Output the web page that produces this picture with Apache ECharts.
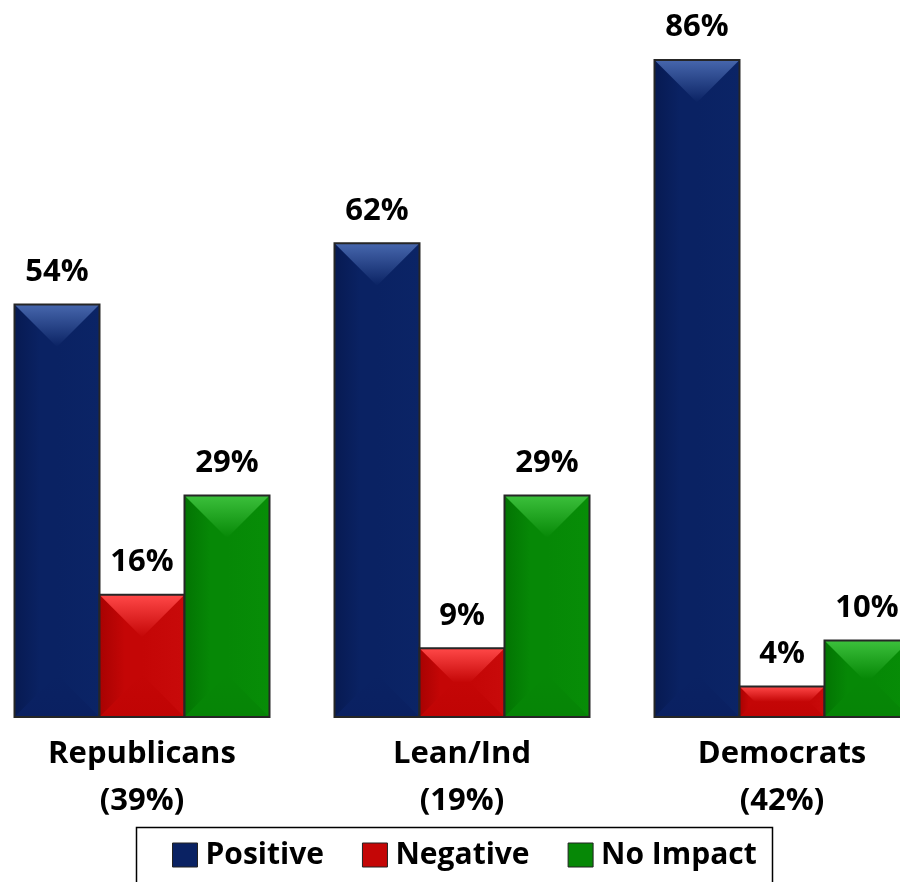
<!DOCTYPE html>
<html><head><meta charset="utf-8">
<script src="https://cdn.jsdelivr.net/npm/echarts@6/dist/echarts.min.js"></script>
<style>html,body{margin:0;padding:0;background:#fff;overflow:hidden;width:900px;height:882px}#c{position:absolute;left:-18px;top:0;width:960px;height:882px}</style>
</head><body><div id="c"></div>
<script>
const categories = ['Republicans\n(39%)', 'Lean/Ind\n(19%)', 'Democrats\n(42%)'];
const seriesNames = ['Positive', 'Negative', 'No Impact'];
const positive = [54, 62, 86];
const negative = [16, 9, 4];
const noImpact = [29, 29, 10];

const FONT = '"Open Sans", "Noto Sans", sans-serif';
const OFF = 18; // container is shifted left by this many px
const BAR_W = 85;
const palette = [
  {base: '#0a2263', light: '#4767ad', dark: '#071a52', side: '#0b2466', bottom: '#0a2061'},
  {base: '#c40606', light: '#ff4848', dark: '#a80202', side: '#c80a0a', bottom: '#c00404'},
  {base: '#068806', light: '#3cc03c', dark: '#037403', side: '#078d07', bottom: '#068406'}
];
const values = [positive, negative, noImpact];

function bevelSeries(si) {
  const c = palette[si];
  const offset = (si - 1) * BAR_W;
  return {
    type: 'custom', name: seriesNames[si] + '_bevel', silent: true, z: 3,
    data: values[si].map((v, k) => [k, v]),
    renderItem: function (params, api) {
      const cat = api.value(0), val = api.value(1);
      const pb = api.coord([cat, 0]);
      const pt = api.coord([cat, val]);
      const cx = pb[0] + offset;
      const x0 = cx - BAR_W / 2, x1 = cx + BAR_W / 2;
      const yT = pt[1], yB = pb[1];
      const d = Math.min(BAR_W / 2, (yB - yT) / 2);
      const LG = echarts.graphic.LinearGradient;
      return {
        type: 'group', children: [
          {type: 'rect', shape: {x: x0, y: yT, width: BAR_W, height: yB - yT}, style: {fill: c.base}},
          {type: 'polygon', shape: {points: [[x0, yB], [x1, yB], [x1 - d, yB - d], [x0 + d, yB - d]]},
            style: {fill: new LG(0, 0, 0, 1, [{offset: 0, color: c.base}, {offset: 1, color: c.bottom}])}},
          {type: 'polygon', shape: {points: [[x0, yT], [x0 + d, yT + d], [x0 + d, yB - d], [x0, yB]]},
            style: {fill: new LG(0, 0, 1, 0, [{offset: 0, color: c.dark}, {offset: 0.6, color: c.base}, {offset: 1, color: c.base}])}},
          {type: 'polygon', shape: {points: [[x1, yT], [x1 - d, yT + d], [x1 - d, yB - d], [x1, yB]]},
            style: {fill: new LG(0, 0, 1, 0, [{offset: 0, color: c.base}, {offset: 1, color: c.side}])}},
          {type: 'polygon', shape: {points: [[x0, yT], [x1, yT], [x1 - d, yT + d], [x0 + d, yT + d]]},
            style: {fill: new LG(0, 0, 0, 1, [{offset: 0, color: c.light}, {offset: 1, color: c.base}])}},
          {type: 'rect', shape: {x: x0, y: yT, width: BAR_W, height: yB - yT},
            style: {fill: 'none', stroke: '#262626', lineWidth: 2}}
        ]
      };
    }
  };
}

const chart = echarts.init(document.getElementById('c'));
chart.setOption({
  animation: false,
  grid: {left: 0, right: 0, top: 29.4, bottom: 165, containLabel: false},
  xAxis: {
    type: 'category', data: categories,
    axisLine: {show: false}, axisTick: {show: false},
    axisLabel: {fontFamily: FONT, fontWeight: 'bold', fontSize: 31, color: '#000', lineHeight: 47, margin: 14}
  },
  yAxis: {type: 'value', min: 0, max: 90, show: false, splitLine: {show: false}},
  graphic: [{
    type: 'rect', left: 134 + OFF, top: 825,
    shape: {x: 0, y: 0, width: 636, height: 80},
    style: {fill: 'none', stroke: '#000', lineWidth: 1.5}
  }],
  legend: {
    left: 172 + OFF, top: 840,
    padding: 0,
    itemWidth: 25, itemHeight: 24, itemGap: 38,
    icon: 'rect',
    itemStyle: {borderColor: '#222', borderWidth: 1},
    textStyle: {fontFamily: FONT, fontWeight: 'bold', fontSize: 30, color: '#000', padding: [0, 0, 0, 3]},
    data: seriesNames
  },
  series: seriesNames.map((n, i) => ({
    name: n, type: 'bar', data: values[i],
    barWidth: BAR_W, barGap: '0%', barCategoryGap: '20%',
    itemStyle: {color: palette[i].base, borderColor: '#222', borderWidth: 1.5},
    label: {show: true, position: 'top', distance: 17, formatter: '{c}%',
      fontFamily: FONT, fontWeight: 'bold', fontSize: 31, color: '#000'}
  })).concat([0, 1, 2].map(bevelSeries))
});
</script></body></html>
